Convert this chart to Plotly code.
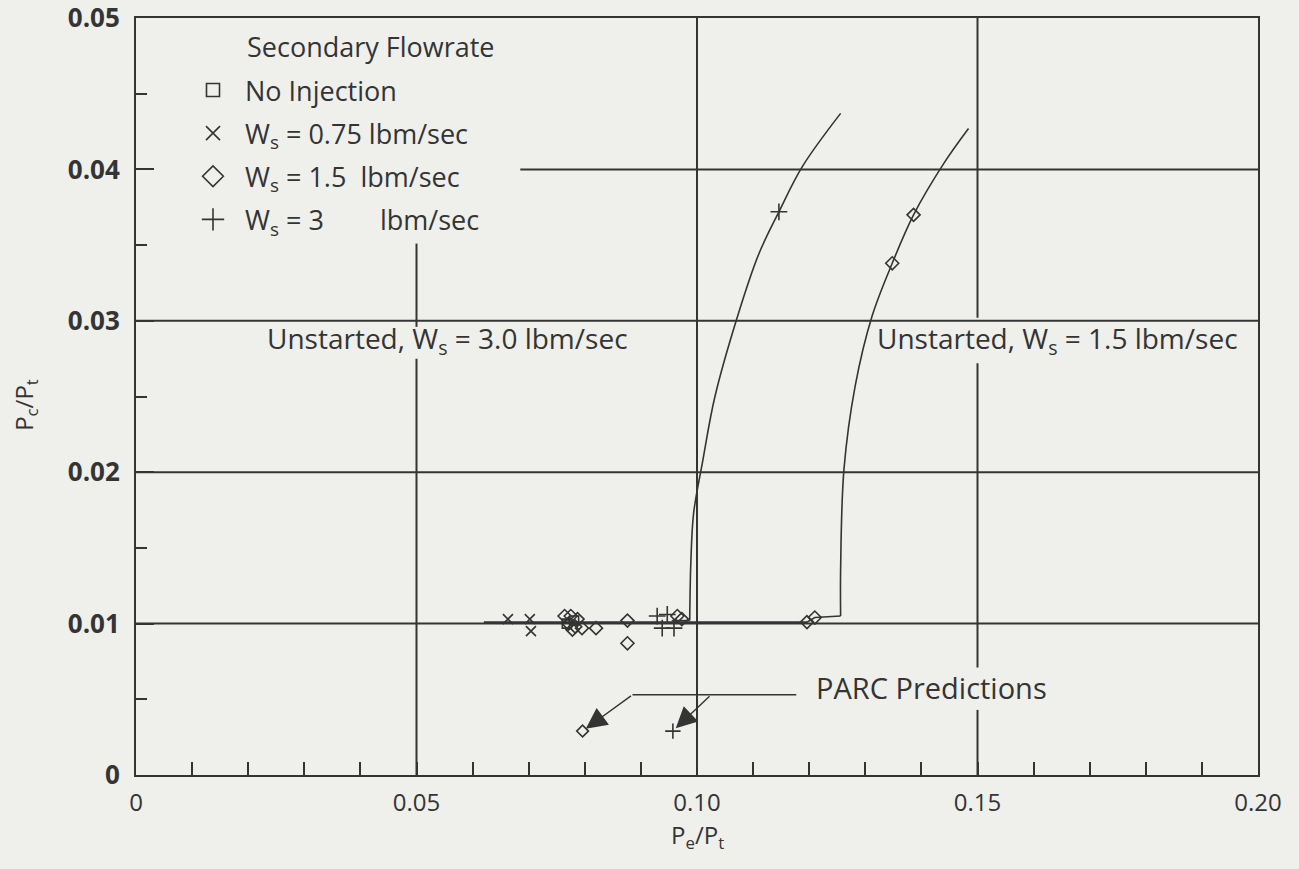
import plotly.graph_objects as go

# ---- measured points ----
no_inj_x = [0.0768, 0.0781]
no_inj_y = [0.0100, 0.0102]

ws075_x = [0.0663, 0.0702, 0.0704]
ws075_y = [0.0103, 0.0103, 0.0095]

ws15_x = [0.0764, 0.0775, 0.0787, 0.0771, 0.0783, 0.0795, 0.0778, 0.0820,
          0.0876, 0.0876, 0.0965, 0.0973, 0.1196, 0.1210, 0.1348, 0.1386]
ws15_y = [0.0105, 0.0105, 0.0103, 0.0100, 0.0098, 0.0097, 0.0096, 0.0097,
          0.0102, 0.0087, 0.0105, 0.0103, 0.0101, 0.0104, 0.0338, 0.0370]

ws3_x = [0.0929, 0.0947, 0.0938, 0.0959, 0.1146]
ws3_y = [0.0105, 0.0106, 0.0097, 0.0097, 0.0372]

# PARC predictions (Ws = 1.5 and Ws = 3)
parc15_x, parc15_y = [0.0796], [0.0029]
parc3_x, parc3_y = [0.0957], [0.0029]

# ---- faired curves ----
base15_x = [0.0620, 0.1196, 0.1210, 0.1256]
base15_y = [0.0101, 0.0101, 0.0104, 0.0105]
curve15_x = [0.1256, 0.1256, 0.1262, 0.1282, 0.1312, 0.1348, 0.1386, 0.1440, 0.1484]
curve15_y = [0.0105, 0.0136, 0.0202, 0.0257, 0.0303, 0.0338, 0.0370, 0.0404, 0.0427]

base3_x = [0.0955, 0.0987]
base3_y = [0.0102, 0.0102]
curve3_x = [0.0987, 0.0989, 0.0994, 0.1010, 0.1032, 0.1074, 0.1110, 0.1146, 0.1188, 0.1256]
curve3_y = [0.0102, 0.0140, 0.0173, 0.0207, 0.0250, 0.0305, 0.0344, 0.0372, 0.0402, 0.0437]

# leader for the PARC label
leader_x = [0.1177, 0.0885]
leader_y = [0.0053, 0.0053]
leader2_start = (0.1025, 0.0053)

# ---- axis ticks ----
x_ticks = [0, 0.05, 0.10, 0.15, 0.20]
x_ticktext = ["0", "0.05", "0.10", "0.15", "0.20"]
y_ticks = [0, 0.01, 0.02, 0.03, 0.04, 0.05]
y_ticktext = ["0", "0.01", "0.02", "0.03", "0.04", "0.05"]

# grid segments (value, start, end), broken where text sits
h_grid = [(0.01, 0.0, 0.2), (0.02, 0.0, 0.2), (0.03, 0.0, 0.2), (0.04, 0.0685, 0.2)]
v_grid = [(0.05, 0.0, 0.0275), (0.05, 0.0296, 0.0351),
          (0.10, 0.0, 0.05),
          (0.15, 0.0, 0.0043), (0.15, 0.0071, 0.0272), (0.15, 0.0302, 0.05)]

INK = "#343434"
BG = "#efefec"
FONT = "Open Sans"

fig = go.Figure()

line_style = dict(color=INK, width=1.6)
spline_style = dict(color=INK, width=1.6, shape="spline", smoothing=1.0)
for bx, by, style in [(base15_x, base15_y, line_style), (curve15_x, curve15_y, spline_style),
                      (base3_x, base3_y, line_style), (curve3_x, curve3_y, spline_style),
                      (leader_x, leader_y, dict(color=INK, width=1.4))]:
    fig.add_trace(go.Scatter(x=bx, y=by, mode="lines", line=style,
                             showlegend=False, hoverinfo="skip"))


def pts(x, y, symbol, size, name):
    fig.add_trace(go.Scatter(
        x=x, y=y, mode="markers", name=name, showlegend=False,
        marker=dict(symbol=symbol, size=size, color=INK,
                    line=dict(color=INK, width=1.6))))


pts(no_inj_x, no_inj_y, "square-open", 9, "No Injection")
pts(ws075_x, ws075_y, "x-thin-open", 10, "Ws = 0.75")
pts(ws15_x, ws15_y, "diamond-open", 10, "Ws = 1.5")
pts(ws3_x, ws3_y, "cross-thin-open", 12, "Ws = 3")
pts(parc15_x, parc15_y, "diamond-open", 9, "PARC 1.5")
pts(parc3_x, parc3_y, "cross-thin-open", 11, "PARC 3")

# legend entries
NB = "\u00a0"
legend_items = [
    ("No Injection", "square-open", 13),
    ("W<sub>s</sub> = 0.75 lbm/sec", "x-thin-open", 14),
    ("W<sub>s</sub> = 1.5" + NB * 2 + "lbm/sec", "diamond-open", 17),
    ("W<sub>s</sub> = 3" + NB * 8 + "lbm/sec", "cross-thin-open", 19),
]
for i, (label, sym, sz) in enumerate(legend_items):
    fig.add_trace(go.Scatter(
        x=[None], y=[None], mode="markers", name=label, legendgroup=f"g{i}",
        marker=dict(symbol=sym, size=sz, color=INK,
                    line=dict(color=INK, width=1.6))))

shapes = []
for yv, x0, x1 in h_grid:
    shapes.append(dict(type="line", xref="x", yref="y", x0=x0, x1=x1, y0=yv, y1=yv,
                       line=dict(color=INK, width=2), layer="below"))
for xv, y0, y1 in v_grid:
    shapes.append(dict(type="line", xref="x", yref="y", x0=xv, x1=xv, y0=y0, y1=y1,
                       line=dict(color=INK, width=2), layer="below"))

annotations = [
    dict(text="Secondary Flowrate", xref="paper", yref="paper", x=0.0971, y=0.9617,
         xanchor="left", yanchor="middle", showarrow=False,
         font=dict(family=FONT, size=27, color=INK)),
    dict(text="Unstarted, W<sub>s</sub> = 3.0 lbm/sec", x=0.0555, y=0.0287,
         xref="x", yref="y", showarrow=False, font=dict(family=FONT, size=28, color=INK)),
    dict(text="Unstarted, W<sub>s</sub> = 1.5 lbm/sec", x=0.1642, y=0.0287,
         xref="x", yref="y", showarrow=False, font=dict(family=FONT, size=28, color=INK)),
    dict(text="PARC Predictions", x=0.1418, y=0.0058, xref="x", yref="y",
         showarrow=False, font=dict(family=FONT, size=29, color=INK)),
    dict(text="", x=parc15_x[0], y=parc15_y[0], ax=leader_x[1], ay=leader_y[1],
         xref="x", yref="y", axref="x", ayref="y", showarrow=True,
         arrowhead=2, arrowsize=3, arrowwidth=1.4, arrowcolor=INK, standoff=4),
    dict(text="", x=parc3_x[0], y=parc3_y[0], ax=leader2_start[0], ay=leader2_start[1],
         xref="x", yref="y", axref="x", ayref="y", showarrow=True,
         arrowhead=2, arrowsize=3, arrowwidth=1.4, arrowcolor=INK, standoff=4),
    # axis titles
    dict(text="P<sub>e</sub>/P<sub>t</sub>", xref="paper", yref="paper", x=0.5, y=-0.080,
         xanchor="center", yanchor="middle", showarrow=False,
         font=dict(family=FONT, size=24, color=INK)),
    dict(text="P<sub>c</sub>/P<sub>t</sub>", xref="paper", yref="paper", x=-0.0989, y=0.489,
         xanchor="center", yanchor="middle", textangle=-90, showarrow=False,
         font=dict(family=FONT, size=24, color=INK)),
]

fig.update_layout(
    width=1299, height=869,
    margin=dict(l=136, r=41, t=18, b=94),
    paper_bgcolor=BG, plot_bgcolor=BG,
    font=dict(family=FONT, size=22, color=INK),
    shapes=shapes, annotations=annotations,
    showlegend=True,
    legend=dict(x=0.0401, y=0.9366, xanchor="left", yanchor="top",
                bgcolor="rgba(0,0,0,0)", traceorder="grouped", tracegroupgap=5,
                itemwidth=54,
                font=dict(family=FONT, size=27, color=INK)),
    xaxis=dict(range=[0, 0.2], showgrid=False, zeroline=False, automargin=False,
               showline=True, mirror=True, linecolor=INK, linewidth=2,
               tickvals=x_ticks, ticktext=x_ticktext,
               ticks="inside", ticklen=13, tickcolor=INK, tickwidth=1.6,
               minor=dict(ticks="inside", dtick=0.01, ticklen=13, tickcolor=INK, tickwidth=1.6),
               tickfont=dict(family=FONT, size=24, color=INK),
               ticklabelstandoff=5, ticklabeloverflow="allow"),
    yaxis=dict(range=[0, 0.05], showgrid=False, zeroline=False, automargin=False,
               showline=True, mirror=True, linecolor=INK, linewidth=2,
               tickvals=y_ticks, ticktext=y_ticktext,
               ticks="inside", ticklen=18, tickcolor=INK, tickwidth=1.6,
               minor=dict(ticks="inside", dtick=0.005, ticklen=11, tickcolor=INK, tickwidth=1.6),
               tickfont=dict(family=FONT, size=26, color=INK, weight="bold"),
               ticklabelstandoff=9, ticklabeloverflow="allow"),
)

fig.write_html("out.html")
